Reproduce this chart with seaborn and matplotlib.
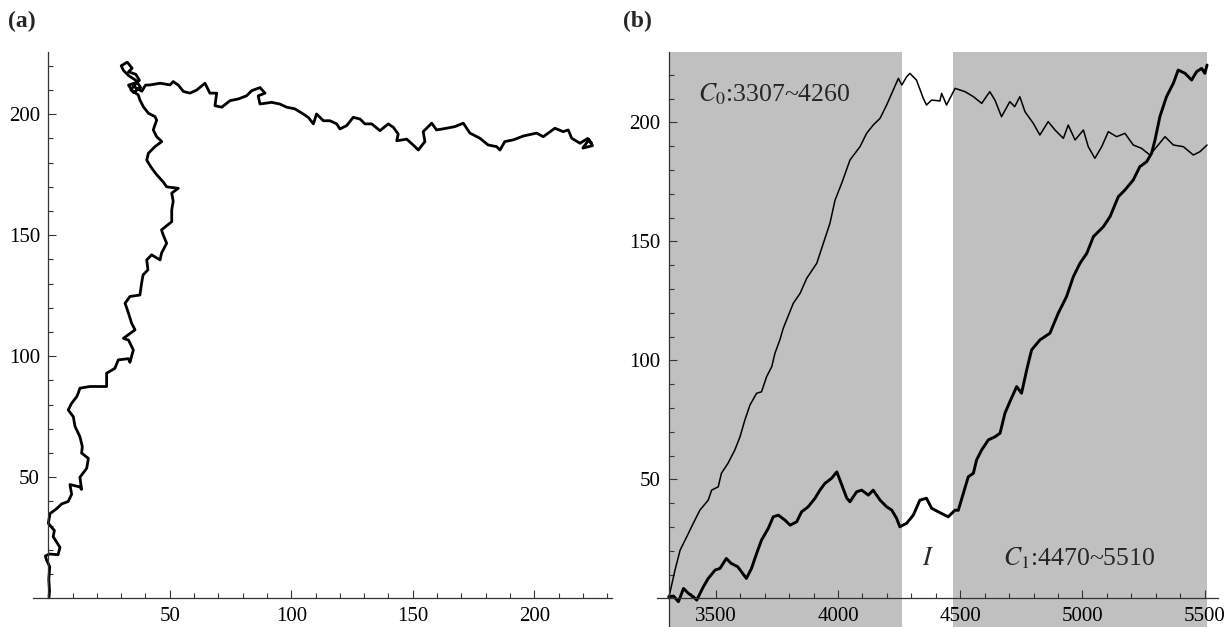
import matplotlib
matplotlib.use("Agg")
import matplotlib.pyplot as plt
import seaborn as sns
from matplotlib.ticker import FixedLocator

# ---------------- data ----------------
# (a) planar walk, traced in path order
path_x = [0.3, 0.5, 0.2, 0.6, -0.8, -1.2, 0.5, 4, 4.8, 2, 2.5, 0, 0.7, 3.4, 5.5, 8.2, 9.6, 8.9, 13, 13.7,
          13, 15.8, 16.5, 13.7, 14, 13, 11, 10.3, 8.2, 9.6, 11.7, 12.3, 13, 17.1, 24, 24, 27.4, 28.8, 33, 33.6,
          35, 33, 30.9, 35.7, 34.3, 33, 31.6, 33.6, 37.7, 38.4, 39, 41, 40.5, 42.5, 46, 46.6, 48.7, 47.3, 46.6, 50.8,
          50.8, 51.4, 50.8, 53.5, 48.7, 47.3, 44.6, 42.5, 40.5, 41.2, 43.9, 46.7, 44.6, 43.2, 44.6, 43.9, 41.2, 39.1, 37.7, 37,
          34, 36, 33, 35, 38, 36, 33, 31, 30, 32.5, 34.5, 33, 36, 37.5, 35, 38.5, 40,
          41.9, 46, 50.1, 51.4, 53.5, 55.6, 58.3, 61.1, 64.5, 66.5, 69.3, 68.6, 71.4, 74.8, 78.2, 81.6, 83.7, 87.1, 89.2, 86.4,
          87.1, 91.9, 95.3, 98.1, 101.5, 104.9, 107, 109.1, 110.4, 113.2, 115.9, 118.7, 120, 122.8, 125.5, 128.3, 130.3, 133.1, 136.5, 139.9,
          142, 144, 143.4, 147.5, 150.9, 152.3, 155, 154.3, 157.8, 159.8, 163.9, 167.4, 170.8, 173.5, 177.6, 181, 184.5, 185.9, 187.9, 191.4,
          195.5, 201, 203.7, 208.5, 211.9, 214, 215.4, 218.8, 222, 224, 220, 222.5, 223.6]
path_y = [0.5, 3, 8, 13, 16, 17.5, 18.3, 18, 21, 25.5, 28, 31, 35, 37, 39, 40, 43, 47, 46, 45,
          50, 53.7, 57.8, 60, 62.7, 66.8, 71, 75, 77.8, 80.6, 83.3, 84.7, 86.8, 87.5, 87.5, 93, 95, 98.5, 99, 97.5,
          102.6, 106.7, 107.4, 110.9, 113.6, 117.8, 121.9, 124.7, 125.3, 130.2, 133.6, 135.7, 139.8, 141.9, 139.8, 142.6, 146.7, 150.1, 152.2, 155.6,
          160.5, 164, 167.4, 169.4, 170, 172, 175, 177.8, 181, 183.9, 186.6, 188.7, 190.7, 193.5, 197.6, 199, 200.4, 203.1, 205.9, 208,
          210, 213, 212, 209, 211, 214, 216, 218, 220, 221.5, 219, 217.5, 216.5, 214, 211.5, 209.5, 212,
          212.1, 212.8, 212.1, 213.5, 212, 209.4, 208.7, 210, 212.8, 208.7, 208.7, 203.5, 202.9, 205.6, 206.3, 207.6, 209.7, 211, 208.7, 207.6,
          204.2, 204.9, 204.2, 202.9, 202.2, 200.1, 198.7, 196, 200.1, 197.3, 197.3, 196, 193.9, 195.3, 198.7, 198, 196, 196, 193.2, 196,
          194.6, 191.8, 189, 189.7, 186.6, 185.2, 188.7, 192.8, 196.3, 193.5, 194.2, 194.9, 196.3, 192.2, 190.1, 187.3, 186.6, 185.2, 188.7, 189.4,
          191, 192.2, 190.7, 194.2, 192.8, 193.5, 190.1, 188, 190, 187, 186, 189.5, 188]

# (b) time series: vertical coordinate (thin) and horizontal coordinate (thick)
t_vert = [3307, 3333, 3354, 3381, 3408, 3435, 3469, 3483, 3510, 3523, 3550, 3578, 3599, 3619, 3640, 3667, 3687, 3708, 3729, 3742,
          3762, 3776, 3817, 3845, 3872, 3913, 3940, 3967, 3988, 4015, 4049, 4090, 4117, 4144, 4172, 4199, 4220, 4247, 4261, 4281,
          4294, 4321, 4349, 4362, 4383, 4417, 4424, 4444, 4479, 4520, 4554, 4588, 4621, 4642, 4669, 4703, 4723, 4744, 4765, 4799,
          4826, 4860, 4888, 4922, 4942, 4970, 5004, 5024, 5051, 5079, 5106, 5140, 5174, 5208, 5242, 5276, 5310, 5338, 5372, 5413,
          5454, 5481, 5510]
v_vert = [0, 11.9, 20.3, 25.9, 31.6, 37.1, 41.3, 45.5, 46.9, 52.6, 56.8, 62.4, 67.9, 75, 81.3, 86.2, 86.8, 93.2, 97.4, 103,
          108.6, 113.5, 124, 128.2, 134.5, 140.8, 149.2, 157.6, 167.4, 174.4, 184.2, 189.8, 195.4, 198.9, 201.7, 207.3, 212.2, 218.5, 215.7, 219.2,
          220.6, 217.8, 210.1, 207.3, 209.4, 209, 212.2, 207.3, 214.3, 212.9, 210.8, 208, 212.9, 209.4, 202.4, 208.7, 206.6, 210.8, 204.5, 199.6,
          194.7, 200.3, 196.8, 193.3, 198.9, 192.6, 196.8, 189.8, 184.9, 189.8, 196.1, 194, 195.4, 190.5, 189.1, 186.3, 190.5, 194, 190.5, 189.8,
          186.3, 187.7, 190.5]

t_horiz = [3307, 3327, 3347, 3368, 3388, 3408, 3422, 3449, 3469, 3497, 3517, 3543, 3563, 3590, 3625, 3646, 3667, 3687, 3715, 3735,
           3756, 3783, 3804, 3831, 3851, 3878, 3906, 3926, 3947, 3974, 3995, 4008, 4036, 4049, 4076, 4097, 4124, 4144, 4172, 4199,
           4220, 4240, 4253, 4281, 4308, 4335, 4362, 4383, 4410, 4451, 4479, 4492, 4513, 4533, 4554, 4567, 4588, 4615, 4642, 4663,
           4683, 4703, 4731, 4751, 4772, 4792, 4826, 4867, 4901, 4935, 4963, 4990, 5018, 5045, 5086, 5113, 5147, 5174, 5208, 5235,
           5263, 5283, 5297, 5317, 5344, 5372, 5392, 5420, 5447, 5467, 5488, 5501, 5510]
v_horiz = [0.7, 1, -1.4, 4.2, 2.1, 0.7, -0.7, 4.9, 8.4, 11.9, 12.6, 16.8, 14.7, 13.3, 8.4, 12.6, 18.9, 24.5, 29.5, 34.3,
           35, 32.9, 30.8, 32.2, 36.4, 38.5, 42.1, 45.5, 48.4, 50.5, 53.2, 49.7, 42.1, 40.6, 44.8, 45.5, 43.4, 45.5, 41.3, 38.5,
           37.1, 33.6, 30.1, 31.6, 35, 41.3, 42.1, 37.9, 36.4, 34.3, 37.1, 37, 44.2, 51.1, 52.6, 58.2, 62.4, 66.6, 67.9, 69.4,
           77.8, 82.6, 89, 86.2, 96, 104.4, 108.6, 111.4, 119.8, 126.8, 135.2, 140.8, 145, 152, 156.2, 160.4, 168.8, 171.6, 175.8, 181.4,
           183.5, 187, 192.6, 202.4, 210.8, 216.4, 222, 220.6, 217.8, 221.3, 222.7, 220.6, 224.1]

# shaded intervals and tick values
span_c0 = (3307, 4260)
span_c1 = (4470, 5510)
ticks_a = [50, 100, 150, 200]
ticks_b_x = [3500, 4000, 4500, 5000, 5500]
ticks_b_y = [50, 100, 150, 200]

# ---------------- style ----------------
sns.set_style("white")
plt.rcParams["font.family"] = ["Liberation Serif", "DejaVu Serif"]
plt.rcParams["mathtext.fontset"] = "stix"

W, H = 1225, 627
fig = plt.figure(figsize=(W / 100, H / 100), dpi=100)

def frac(x0, y0, x1, y1):
    return [x0 / W, 1 - y1 / H, (x1 - x0) / W, (y1 - y0) / H]

AX_COLOR = "#333333"
TICK_FS = 15

def style_axes(ax, x0, y0):
    for s in ["top", "right"]:
        ax.spines[s].set_visible(False)
    ax.spines["left"].set_position(("data", x0))
    ax.spines["bottom"].set_position(("data", y0))
    for s in ["left", "bottom"]:
        ax.spines[s].set_color(AX_COLOR)
        ax.spines[s].set_linewidth(0.9)
    ax.tick_params(which="both", direction="in", bottom=True, left=True, top=False, right=False,
                   colors=AX_COLOR, labelcolor="black", labelsize=TICK_FS, width=0.8)
    ax.tick_params(which="major", length=6, pad=6)
    ax.tick_params(which="minor", length=3.5)
    ax.set_xlabel("")
    ax.set_ylabel("")
    ax.patch.set_alpha(0)

# ---------------- panel (a) ----------------
ax1 = fig.add_axes(frac(33, 52, 612, 598.3))
sns.lineplot(x=path_x, y=path_y, ax=ax1, sort=False, estimator=None,
             color="black", linewidth=2.0)
ax1.set_xlim(-6.3, 232)
ax1.set_ylim(0, 225.7)
style_axes(ax1, 0, 0)
ax1.xaxis.set_major_locator(FixedLocator(ticks_a))
ax1.yaxis.set_major_locator(FixedLocator(ticks_a))
ax1.xaxis.set_minor_locator(FixedLocator(list(range(10, 231, 10))))
ax1.yaxis.set_minor_locator(FixedLocator(list(range(10, 221, 10))))

# ---------------- panel (b) ----------------
ax2 = fig.add_axes(frac(657, 51.7, 1218, 627))
ax2.axvspan(*span_c0, color="#c0c0c0", lw=0, zorder=0)
ax2.axvspan(*span_c1, color="#c0c0c0", lw=0, zorder=0)
sns.lineplot(x=t_vert, y=v_vert, ax=ax2, sort=False, estimator=None,
             color="black", linewidth=1.1)
sns.lineplot(x=t_horiz, y=v_horiz, ax=ax2, sort=False, estimator=None,
             color="black", linewidth=2.1)
ax2.set_xlim(3259.4, 5554.8)
ax2.set_ylim(-12.0, 229.7)
style_axes(ax2, span_c0[0], 0)
ax2.xaxis.set_major_locator(FixedLocator(ticks_b_x))
ax2.yaxis.set_major_locator(FixedLocator(ticks_b_y))
ax2.xaxis.set_minor_locator(FixedLocator(list(range(3400, 5501, 100))))
ax2.yaxis.set_minor_locator(FixedLocator(list(range(10, 221, 10))))

ax2.text(3428, 208.7, r"$C_0$:3307~4260", fontsize=18.5, ha="left", va="baseline")
ax2.text(4368, 14, r"$I$", fontsize=18.5, ha="center", va="baseline")
ax2.text(4676, 14, r"$C_1$:4470~5510", fontsize=18.5, ha="left", va="baseline")

# panel labels
fig.text(8 / W, 1 - 21 / H, "(a)", fontsize=17, fontweight="bold", ha="left", va="center")
fig.text(623 / W, 1 - 21 / H, "(b)", fontsize=17, fontweight="bold", ha="left", va="center")

fig.savefig("out.png", dpi=100)
